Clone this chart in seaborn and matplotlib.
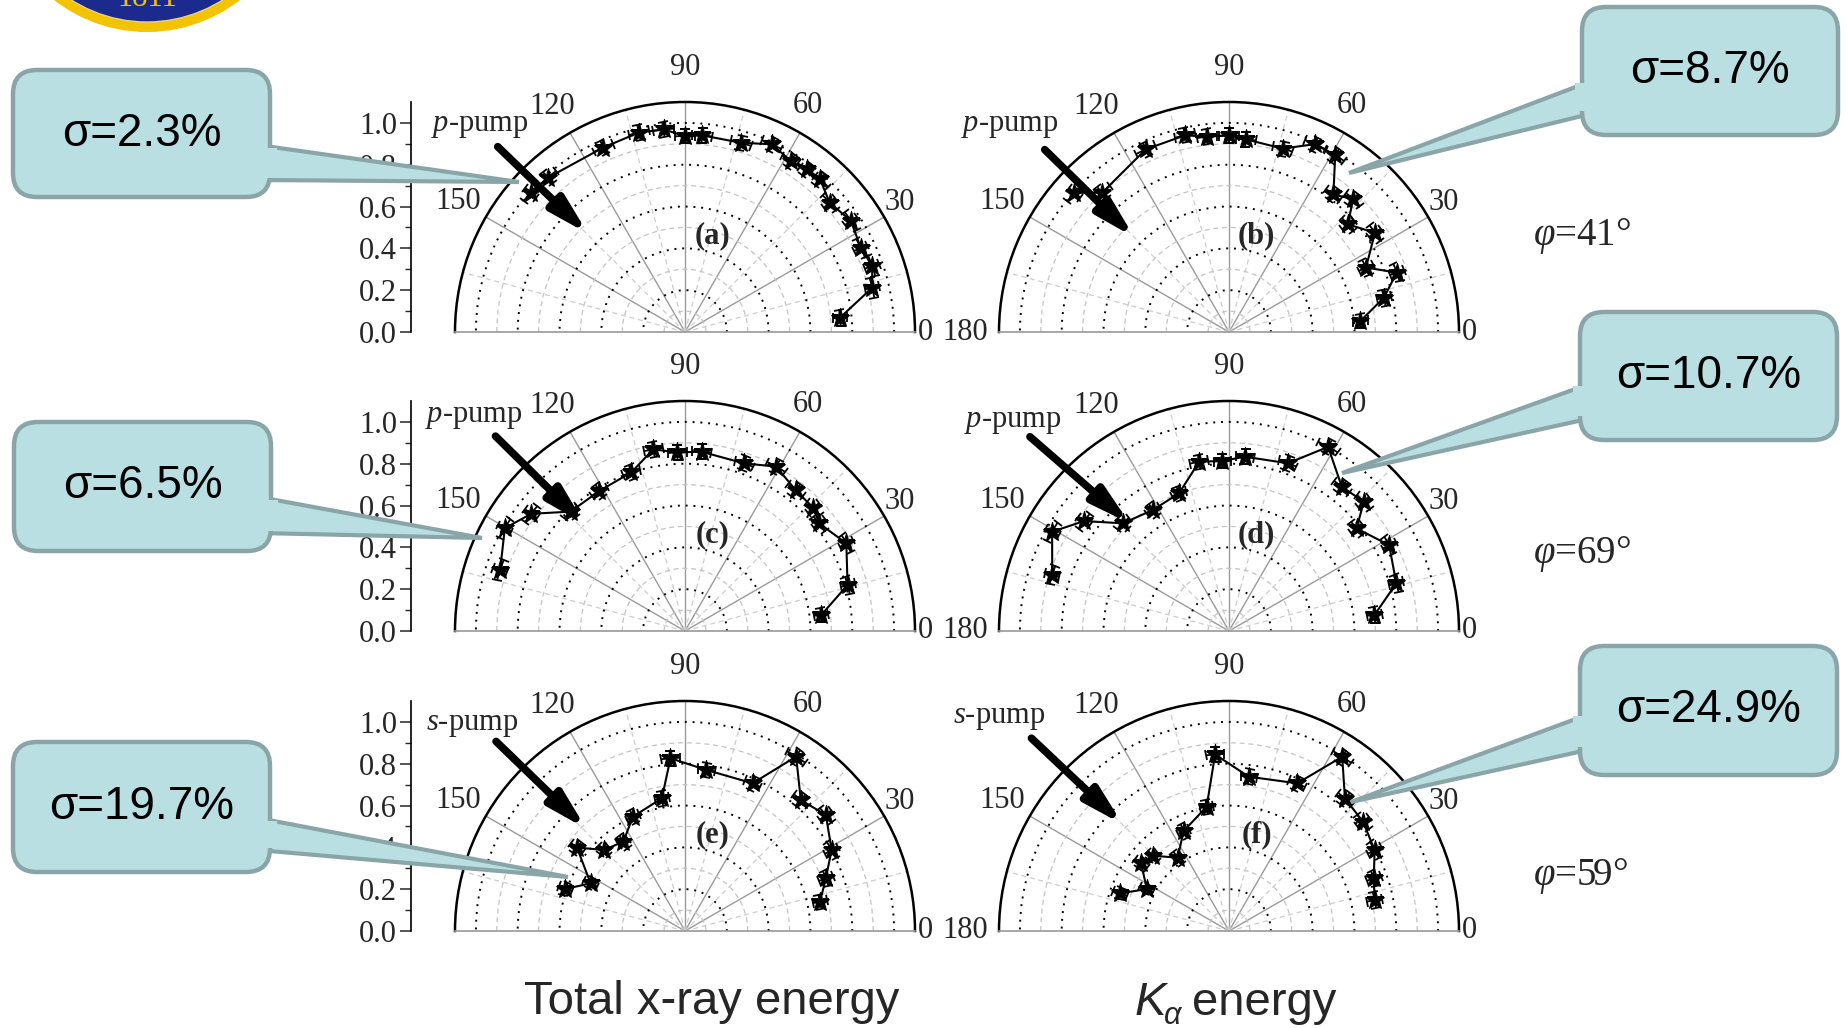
import numpy as np
import pandas as pd
import matplotlib
matplotlib.use("Agg")
import matplotlib.pyplot as plt
from matplotlib.patches import FancyBboxPatch, Polygon, Ellipse
from matplotlib.transforms import Affine2D
import seaborn as sns

W, H, DPI = 1849, 1028, 100

# ---- values: polarisation angle (deg) and normalised yield
A_THETA = [5.3, 13.3, 19.4, 25.6, 33.8, 41.8, 48.5, 53.2, 58.2, 65.2, 73.5, 85, 90, 96, 103, 113.9, 131.6, 137.9]
A_R = [0.745, 0.920, 0.949, 0.932, 0.955, 0.928, 0.975, 0.971, 0.962, 0.989, 0.944, 0.944, 0.937, 0.974, 0.979, 0.965, 0.987, 0.994]

B_THETA = [4.8, 12.5, 19.5, 25.2, 34.2, 42.2, 46.9, 52.8, 59, 65.4, 73.7, 85, 90, 96.4, 102.6, 114.5, 132.3, 138]
B_R = [0.631, 0.759, 0.851, 0.724, 0.844, 0.767, 0.869, 0.826, 0.986, 0.988, 0.914, 0.925, 0.94, 0.940, 0.964, 0.960, 0.901, 0.995]

C_THETA = [6.7, 15.8, 28.5, 38.7, 43.7, 51.9, 61, 70.6, 84.7, 92.5, 99.9, 108.7, 121.5, 133.8, 142.7, 150.3, 161.7]
C_R = [0.656, 0.808, 0.878, 0.823, 0.850, 0.857, 0.899, 0.850, 0.861, 0.855, 0.882, 0.801, 0.785, 0.791, 0.925, 0.992, 0.931]

D_THETA = [6.3, 15.9, 28.2, 38.8, 43.8, 52, 61.7, 70.7, 84.8, 92.2, 100, 110, 122.2, 134.6, 142.8, 150.7, 162.4]
D_R = [0.700, 0.832, 0.869, 0.783, 0.893, 0.876, 1.0, 0.850, 0.837, 0.814, 0.822, 0.700, 0.684, 0.723, 0.870, 0.970, 0.887]

E_THETA = [12.3, 20.5, 28.9, 39.5, 48.5, 57.5, 65.4, 82.5, 94.8, 99.9, 114.5, 124.6, 135, 142.3, 153.2, 160.6]
E_R = [0.661, 0.719, 0.801, 0.873, 0.836, 0.989, 0.777, 0.777, 0.829, 0.644, 0.601, 0.519, 0.548, 0.653, 0.506, 0.606]

F_THETA = [12, 20, 29.1, 39.2, 48.8, 57, 65.2, 82.7, 94.5, 100.2, 114.4, 125, 135.3, 142.4, 152.9, 160.9]
F_R = [0.712, 0.737, 0.797, 0.827, 0.842, 0.994, 0.778, 0.744, 0.847, 0.604, 0.525, 0.428, 0.512, 0.531, 0.441, 0.550]

THETA_ERR = 3.0   # deg, estimated
R_ERR = 0.035     # estimated

PANEL_TAGS = ["(a)", "(b)", "(c)", "(d)", "(e)", "(f)"]
PUMPS = ["p", "p", "p", "p", "s", "s"]
SIGMAS = ["σ=2.3%", "σ=8.7%", "σ=6.5%", "σ=10.7%", "σ=19.7%", "σ=24.9%"]
PHIS = [41, 69, 59]
THETA_TICKS = [0, 30, 60, 90, 120, 150, 180]
R_TICKS = [0.0, 0.2, 0.4, 0.6, 0.8, 1.0]

SERIES = [(A_THETA, A_R), (B_THETA, B_R), (C_THETA, C_R),
          (D_THETA, D_R), (E_THETA, E_R), (F_THETA, F_R)]

# ---- layout (pixels, top-left origin)
R_PX = 230
CENTERS = [(685, 332), (1229, 332), (685, 631), (1229, 631), (685, 931), (1229, 931)]
LEFT_AXIS_X = 411
# theta label positions (theta deg, r) around the arc
TLABEL_POS = {0: (0, 1.15), 30: (31, 1.20), 60: (61.5, 1.235), 90: (90, 1.265),
              120: (120.5, 1.25), 150: (150, 1.25), 180: (180, 1.26)}
ARROWS = [((135.3, 1.26), (134.6, 0.66)), ((135.3, 1.24), (135, 0.64)),
          ((134.2, 1.30), (133.2, 0.70)), ((135.7, 1.33), (132.7, 0.70)),
          ((134.9, 1.28), (134, 0.68)), ((135.7, 1.32), (134.9, 0.72))]
PUMP_POS = [(134.8, 1.39), (136.8, 1.44), (134.5, 1.44), (135.9, 1.44), (135.9, 1.42), (137.1, 1.50)]
# callouts: box (x0, y0, x1, y1), side of wedge, wedge base y-range, tip
CALLOUTS = [
    ((13, 70, 270, 197), "right", (145, 180), (519, 182)),
    ((1582, 7, 1838, 135), "left", (80, 113), (1349, 173)),
    ((14, 422, 271, 551), "right", (497, 533), (482, 538)),
    ((1580, 312, 1837, 440), "left", (383, 418), (1342, 473)),
    ((13, 742, 270, 872), "right", (818, 850), (568, 877)),
    ((1580, 646, 1837, 775), "left", (713, 749), (1351, 802)),
]
PHI_POS = [(1533, 236), (1533, 554), (1533, 876)]

sns.set_style("white")
plt.rcParams["font.family"] = ["Liberation Serif", "DejaVu Serif"]
plt.rcParams["mathtext.fontset"] = "custom"
plt.rcParams["mathtext.it"] = "Liberation Serif:italic"
plt.rcParams["mathtext.rm"] = "Liberation Serif"
plt.rcParams["mathtext.bf"] = "Liberation Serif:bold"

TICK_FS = 22
FILL = "#badfe3"
EDGE = "#8aa5a8"

fig = plt.figure(figsize=(W / DPI, H / DPI), dpi=DPI)
PIX = Affine2D().scale(1 / DPI, -1 / DPI).translate(0, H / DPI) + fig.dpi_scale_trans

for i, ((cx, by), (th, rr)) in enumerate(zip(CENTERS, SERIES)):
    # square box; the half-disc is centred vertically inside it
    ax = fig.add_axes([(cx - R_PX) / W, 1 - (by + 0.5 * R_PX) / H, 2 * R_PX / W, 2 * R_PX / H],
                      projection="polar")
    ax.patch.set_visible(False)
    df = pd.DataFrame({"theta": np.deg2rad(th), "r": rr})

    ax.errorbar(df["theta"], df["r"], xerr=np.deg2rad(THETA_ERR), yerr=R_ERR,
                fmt="none", ecolor="black", elinewidth=1.3, capsize=3.5, capthick=1.3, zorder=4)
    sns.lineplot(data=df, x="theta", y="r", sort=False, estimator=None, ax=ax,
                 color="black", lw=1.5, marker="*", markersize=14,
                 markeredgecolor="black", zorder=5)
    ax.set_xlabel("")
    ax.set_ylabel("")

    ax.set_thetamin(0)
    ax.set_thetamax(180)
    ax.set_rlim(0, 1.1)

    ax.set_xticks(np.deg2rad(THETA_TICKS))
    ax.set_xticklabels([])
    ax.set_xticks(np.deg2rad(np.arange(15, 180, 30)), minor=True)
    ax.set_yticks([0.2, 0.4, 0.6, 0.8, 1.0])
    ax.set_yticklabels([])
    ax.set_yticks(np.arange(0.1, 1.0, 0.2), minor=True)
    ax.xaxis.grid(True, which="major", color="#9a9a9a", lw=1.0, ls="-")
    ax.xaxis.grid(True, which="minor", color="#cdcdcd", lw=0.9, ls=(0, (4, 3)))
    ax.yaxis.grid(True, which="major", color="black", lw=1.4, ls=(0, (1, 3)))
    ax.yaxis.grid(True, which="minor", color="#c4c4c4", lw=0.9, ls=(0, (4, 3)))
    ax.tick_params(axis="x", which="major", direction="out", length=5, width=1.2, color="black")
    ax.tick_params(axis="x", which="minor", length=0)
    ax.tick_params(axis="y", which="both", length=0)
    ax.spines["polar"].set_linewidth(1.8)
    ax.spines["polar"].set_color("black")
    for s in ("start", "end"):
        ax.spines[s].set_color("#9a9a9a")
        ax.spines[s].set_linewidth(1.2)

    left_col = i % 2 == 0
    for t in THETA_TICKS:
        if left_col and t == 180:
            continue
        tdeg, tr = TLABEL_POS[t]
        ax.text(np.deg2rad(tdeg), tr, str(t), ha="center", va="center",
                fontsize=TICK_FS, clip_on=False)

    ax.text(np.deg2rad(74), 0.48, PANEL_TAGS[i], ha="center", va="center",
            fontsize=22, fontweight="bold")

    (t0, r0), (t1, r1) = ARROWS[i]
    ax.annotate("", xy=(np.deg2rad(t1), r1), xytext=(np.deg2rad(t0), r0),
                arrowprops=dict(arrowstyle="-|>,head_length=1.5,head_width=0.4",
                                lw=5.5, color="black", shrinkA=0, shrinkB=0,
                                mutation_scale=15),
                annotation_clip=False)
    pt, pr = PUMP_POS[i]
    ax.text(np.deg2rad(pt), pr, f"${PUMPS[i]}$-pump", ha="center", va="center",
            fontsize=TICK_FS, clip_on=False)

    if left_col:
        lax = fig.add_axes([LEFT_AXIS_X / W, 1 - by / H, 0.0005, R_PX / H])
        lax.set_ylim(0, 1.1)
        for s in ("top", "right", "bottom"):
            lax.spines[s].set_visible(False)
        lax.spines["left"].set_linewidth(1.2)
        lax.spines["left"].set_color("black")
        lax.set_xticks([])
        lax.set_yticks(R_TICKS)
        lax.set_yticklabels([f"{v:.1f}" for v in R_TICKS])
        lax.set_yticks(np.arange(0.1, 1.0, 0.2), minor=True)
        lax.tick_params(axis="y", which="major", direction="out", length=8, width=1.1,
                        labelsize=TICK_FS, pad=2, left=True)
        lax.tick_params(axis="y", which="minor", direction="out", length=4, width=1.0, left=True)
        lax.patch.set_visible(False)

# ---- callouts
for (box, side, (yb0, yb1), tip), label in zip(CALLOUTS, SIGMAS):
    x0, y0, x1, y1 = box
    xb = x1 if side == "right" else x0
    inset = -12 if side == "right" else 12
    wedge_pts = [(xb + inset, yb0), tip, (xb + inset, yb1)]
    fig.add_artist(Polygon(wedge_pts, closed=True, fc=FILL, ec=EDGE, lw=3, transform=PIX, zorder=6))
    fig.add_artist(FancyBboxPatch((x0, y0), x1 - x0, y1 - y0,
                                  boxstyle="round,pad=0,rounding_size=24",
                                  fc=FILL, ec=EDGE, lw=3.2, transform=PIX, zorder=7))
    cover = [(xb + 2 * inset, yb0 + 2.5), (xb - inset * 0.6, yb0 + 2.5),
             (xb - inset * 0.6, yb1 - 2.5), (xb + 2 * inset, yb1 - 2.5)]
    fig.add_artist(Polygon(cover, closed=True, fc=FILL, ec="none", transform=PIX, zorder=8))
    fig.text((x0 + x1) / 2 / W, 1 - (y0 + y1) / 2 / H, label, ha="center", va="center",
             fontsize=33, family="Liberation Sans", color="black", zorder=9)

# ---- phi labels
for (px, py), phi in zip(PHI_POS, PHIS):
    fig.text(px / W, 1 - py / H, rf"$\varphi$={phi}°", ha="left", va="center", fontsize=28)

# ---- column titles
fig.text(712 / W, 1 - 1002 / H, "Total x-ray energy", ha="center", va="center",
         fontsize=34, family="Liberation Sans")
fig.text(1135 / W, 1 - 1015 / H, "K", ha="left", va="baseline", fontsize=34,
         family="Liberation Sans", style="italic")
fig.text(1164 / W, 1 - 1024 / H, "α", ha="left", va="baseline", fontsize=22,
         family="Liberation Sans", style="italic")
fig.text(1192 / W, 1 - 1015 / H, "energy", ha="left", va="baseline", fontsize=34,
         family="Liberation Sans")

# ---- partial logo at top-left
fig.add_artist(Ellipse((147, -119), 302, 302, fc="#f3c300", ec="none", transform=PIX, zorder=2))
fig.add_artist(Ellipse((147, -119), 282, 282, fc="#1b2a8c", ec="#e8d27a", lw=1.0, transform=PIX, zorder=2))
fig.text(147 / W, 1 + 2 / H, "1811", ha="center", va="center", fontsize=22,
         color="#f3c300", zorder=3)

fig.savefig("out.png", dpi=DPI)
